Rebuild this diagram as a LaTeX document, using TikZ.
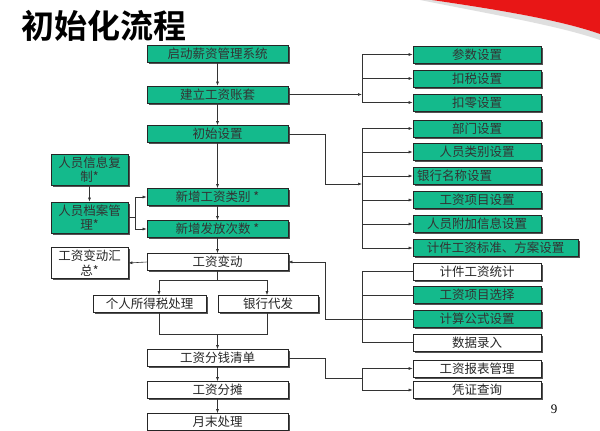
\documentclass[tikz,border=0pt]{standalone}
\usepackage{fontspec}
\setmainfont{Liberation Serif}
\newfontfamily\cjk{Noto Sans CJK SC}
\newfontfamily\cjkbold{Noto Sans CJK SC Bold}
\usetikzlibrary{shadows,arrows.meta}
\definecolor{boxgreen}{RGB}{20,186,140}
\definecolor{swred}{RGB}{232,22,22}
\tikzset{
  bx/.style={draw=black!85, line width=0.7pt, minimum height=17pt, inner sep=1pt,
    font=\cjk\fontsize{12.5}{14.5}\selectfont,
    drop shadow={shadow xshift=1.8pt, shadow yshift=-1.8pt, fill=black!75, opacity=0.9}},
  gbx/.style={bx, fill=boxgreen, text=black!80},
  wbx/.style={bx, fill=white, text=black!85},
  tall/.style={minimum height=31pt, align=center, text width=72pt},
  ln/.style={draw=black!80, line width=0.6pt},
  arr/.style={ln, -{Latex[length=4pt,width=3pt]}},
}
\begin{document}
\begin{tikzpicture}[x=1pt,y=-1pt]
\useasboundingbox (0,0) rectangle (600,431);
% red swoosh
\fill[black!25, opacity=0.5] (420,0) .. controls (490,14) and (560,26) .. (600,40) -- (600,34) .. controls (560,20) and (500,10) .. (432,0) -- cycle;
\fill[swred] (432,0) .. controls (500,10) and (560,20) .. (600,34) -- (600,0) -- cycle;
% title
\node[anchor=west, inner sep=0pt, font=\cjkbold\fontsize{33}{36}\selectfont] (title) at (21,26) {初始化流程};
% main column
\node[gbx, minimum width=141pt] (start) at (217.5,54) {启动薪资管理系统};
\node[gbx, minimum width=141pt] (zhang) at (217.5,94.5) {建立工资账套};
\node[gbx, minimum width=141pt] (init) at (217.5,134) {初始设置};
\node[gbx, minimum width=141pt] (lb) at (217.5,197) {新增工资类别 *};
\node[gbx, minimum width=141pt] (cs) at (217.5,229) {新增发放次数 *};
\node[wbx, minimum width=141pt] (bd) at (217.5,262) {工资变动};
\node[wbx, minimum width=141pt] (qd) at (217.5,358) {工资分钱清单};
\node[wbx, minimum width=141pt] (ft) at (217.5,390) {工资分摊};
\node[wbx, minimum width=141pt] (ym) at (217.5,422) {月末处理};
% left column
\node[gbx, tall, minimum width=77pt] (fz) at (89.5,169.5) {人员信息复\\制*};
\node[gbx, tall, minimum width=77pt] (da) at (89.5,217.5) {人员档案管\\理*};
\node[wbx, tall, minimum width=77pt] (hz) at (89.5,263) {工资变动汇\\总*};
\node[wbx, minimum width=113pt] (gs) at (149.5,304) {个人所得税处理};
\node[wbx, minimum width=100pt] (yh) at (268,304) {银行代发};
% right column
\node[gbx, minimum width=128pt] (p1) at (477,54.5) {参数设置};
\node[gbx, minimum width=128pt] (p2) at (477,78.5) {扣税设置};
\node[gbx, minimum width=128pt] (p3) at (477,102.5) {扣零设置};
\node[gbx, minimum width=128pt] (q1) at (477,128.5) {部门设置};
\node[gbx, minimum width=128pt] (q2) at (477,152) {人员类别设置};
\node[gbx, text width=120pt, align=left, inner xsep=4pt] (q3) at (477,176) {银行名称设置};
\node[gbx, minimum width=128pt] (q4) at (477,200) {工资项目设置};
\node[gbx, minimum width=128pt] (q5) at (477,224) {人员附加信息设置};
\node[gbx, minimum width=165pt] (q6) at (495.5,248) {计件工资标准、方案设置};
\node[wbx, minimum width=128pt] (r1) at (477,271.5) {计件工资统计};
\node[gbx, minimum width=128pt] (r2) at (477,295) {工资项目选择};
\node[gbx, minimum width=128pt] (r3) at (477,319) {计算公式设置};
\node[wbx, minimum width=128pt] (r4) at (477,342.5) {数据录入};
\node[wbx, minimum width=128pt] (s1) at (477,368.5) {工资报表管理};
\node[wbx, minimum width=128pt] (s2) at (477,390) {凭证查询};
\node[font=\fontsize{13}{15}\selectfont] (pg) at (554,409) {9};
% main column arrows
\draw[arr] (start) -- (zhang);
\draw[arr] (zhang) -- (init);
\draw[arr] (init) -- (lb);
\draw[arr] (lb) -- (cs);
\draw[arr] (cs) -- (bd);
\draw[arr] (fz) -- (da);
\draw[arr] (bd.west) -- (hz.east);
% person archive to new category / count
\coordinate (dj) at (135,217.5);
\draw[ln] (da.east) -- (dj);
\draw[ln] (dj |- lb.west) -- (dj |- cs.west);
\draw[arr] (dj |- lb.west) -- (lb.west);
\draw[arr] (dj |- cs.west) -- (cs.west);
% split to tax / bank
\coordinate (sp) at (217.5,280);
\coordinate (spl) at (159,280);
\coordinate (spr) at (267,280);
\draw[ln] (bd.south) -- (sp);
\draw[ln] (spl) -- (spr);
\draw[arr] (spl) -- (spl |- gs.north);
\draw[arr] (spr) -- (spr |- yh.north);
\coordinate (jl) at (159,334);
\coordinate (jr) at (267,334);
\coordinate (jm) at (217.5,334);
\draw[ln] (jl |- gs.south) -- (jl) -- (jr) -- (jr |- yh.south);
\draw[arr] (jm) -- (qd.north);
\draw[arr] (qd) -- (ft);
\draw[arr] (ft) -- (ym);
% group 1
\coordinate (b1) at (362,94.5);
\draw[arr] (zhang.east) -- (b1);
\draw[ln] (b1 |- p1.west) -- (b1 |- p3.west);
\draw[arr] (b1 |- p1.west) -- (p1.west);
\draw[arr] (b1 |- p2.west) -- (p2.west);
\draw[arr] (b1 |- p3.west) -- (p3.west);
% group 2
\coordinate (b2) at (362,184);
\coordinate (c2) at (325,134);
\draw[arr] (init.east) -- (c2) |- (b2);
\draw[ln] (b2 |- q1.west) -- (b2 |- q6.west);
\foreach \n in {q1,q2,q3,q4,q5,q6} \draw[arr] (b2 |- \n.west) -- (\n.west);
% group 3
\coordinate (b3) at (362,319);
\coordinate (c3) at (325,319);
\draw[ln] (b3 |- r1.west) -- (b3 |- r4.west);
\foreach \n in {r1,r2,r3,r4} \draw[ln] (b3 |- \n.west) -- (\n.west);
\draw[arr] (b3) -- (c3) |- (bd.east);
% group 4
\coordinate (b4) at (362,378);
\coordinate (c4) at (325,358);
\draw[ln] (qd.east) -- (c4) |- (b4);
\draw[ln] (b4 |- s1.west) -- (b4 |- s2.west);
\draw[arr] (b4 |- s1.west) -- (s1.west);
\draw[arr] (b4 |- s2.west) -- (s2.west);
\end{tikzpicture}
\end{document}
